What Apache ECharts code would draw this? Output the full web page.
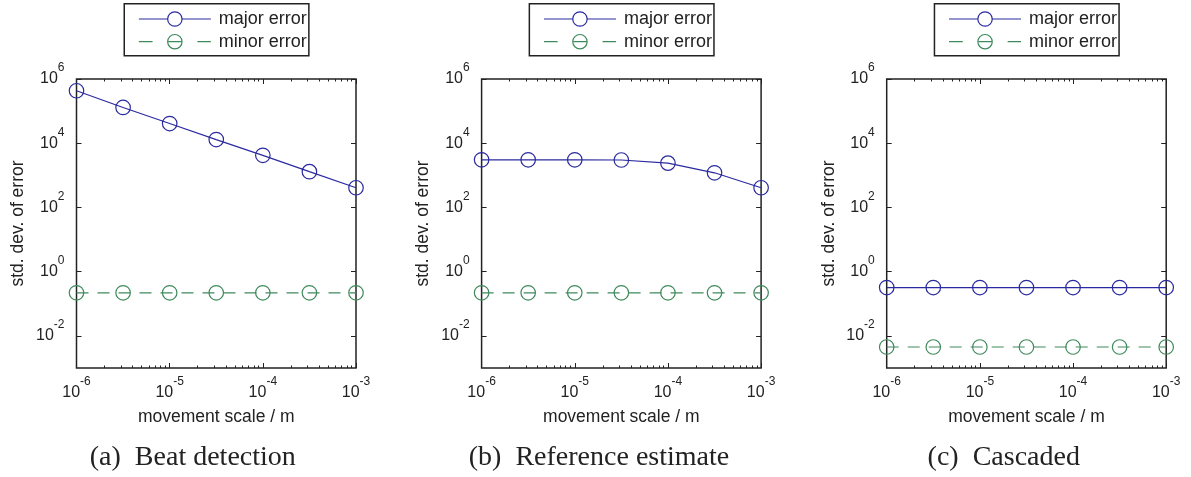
<!DOCTYPE html>
<html><head><meta charset="utf-8">
<script src="https://cdn.jsdelivr.net/npm/echarts@6/dist/echarts.min.js"></script>
<style>html,body{margin:0;padding:0;background:#fff}#c{width:1191px;height:477px}</style>
</head><body><div id="c"></div>
<script>
// ---- data ----
const xValues = [1e-6, 3.162e-6, 1e-5, 3.162e-5, 1e-4, 3.162e-4, 1e-3];
const seriesNames = ['major error', 'minor error'];
const panelCaptions = ['(a)  Beat detection', '(b)  Reference estimate', '(c)  Cascaded'];
const majorBeat = [4.3e5, 1.3e5, 4.1e4, 1.3e4, 4.2e3, 1.3e3, 410];
const minorBeat = [0.22, 0.22, 0.22, 0.22, 0.22, 0.22, 0.22];
const majorRef  = [3050, 3050, 3050, 3000, 2400, 1200, 410];
const minorRef  = [0.22, 0.22, 0.22, 0.22, 0.22, 0.22, 0.22];
const majorCasc = [0.32, 0.32, 0.32, 0.32, 0.32, 0.32, 0.32];
const minorCasc = [0.0045, 0.0045, 0.0045, 0.0045, 0.0045, 0.0045, 0.0045];
const xTickValues = [1e-6, 1e-5, 1e-4, 1e-3];
const yTickValues = [1e-2, 1, 1e2, 1e4, 1e6];
const xMinorTickValues = [2e-6,3e-6,4e-6,5e-6,6e-6,7e-6,8e-6,9e-6,
                          2e-5,3e-5,4e-5,5e-5,6e-5,7e-5,8e-5,9e-5,
                          2e-4,3e-4,4e-4,5e-4,6e-4,7e-4,8e-4,9e-4];
const panels = [[majorBeat, minorBeat], [majorRef, minorRef], [majorCasc, minorCasc]];

// ---- style ----
const BLUE = '#2a2aa0', GREEN = '#3f8a5c', INK = '#222';
const SANS = 'Liberation Sans, Arial, sans-serif';
const gridLefts = [76.5, 481.6, 886.7];
const GW = 279.5, GT = 79, GH = 289;

const grids = [], xAxes = [], yAxes = [], series = [], legends = [], titles = [];
const lg = v => Math.log10(v);

function decoAxis(gridIndex, pos, min, max, vals, len) {
  return {
    type: 'value', gridIndex, position: pos, min, max,
    axisLine: {show: false, onZero: false}, axisLabel: {show: false}, splitLine: {show: false},
    axisTick: {show: true, inside: true, length: len, customValues: vals,
               lineStyle: {color: INK, width: 1}}
  };
}

panels.forEach((vals, p) => {
  const left = gridLefts[p];
  const gm = grids.length;
  grids.push({left, top: GT, width: GW, height: GH, show: true,
              borderColor: INK, borderWidth: 1.5, backgroundColor: 'rgba(0,0,0,0)'});
  const gd = grids.length;
  grids.push({left, top: GT, width: GW, height: GH, show: false});

  const xMain = xAxes.length;
  xAxes.push({
    type: 'log', logBase: 10, gridIndex: gm, position: 'bottom',
    min: 1e-6, max: 1e-3,
    axisLine: {show: false, onZero: false}, splitLine: {show: false},
    axisTick: {show: true, inside: true, length: 5, lineStyle: {color: INK, width: 1}},
    axisLabel: {
      margin: 7.5,
      formatter: v => '{b|10}{s|' + Math.round(lg(v)) + '}',
      rich: {
        b: {fontSize: 16, fontFamily: SANS, color: INK, lineHeight: 34},
        s: {fontSize: 12, fontFamily: SANS, color: INK, lineHeight: 13, verticalAlign: 'top'}
      }
    },
    name: 'movement scale / m', nameLocation: 'middle', nameGap: 40,
    nameTextStyle: {fontSize: 17.5, fontFamily: SANS, color: INK}
  });
  xAxes.push(decoAxis(gm, 'top', -6, -3, xTickValues.map(lg), 5));
  xAxes.push(decoAxis(gd, 'bottom', -6, -3, xMinorTickValues.map(lg), 2.5));
  xAxes.push(decoAxis(gd, 'top', -6, -3, xMinorTickValues.map(lg), 2.5));

  const yMain = yAxes.length;
  yAxes.push({
    type: 'log', logBase: 10, gridIndex: gm, position: 'left',
    min: 1e-3, max: 1e6,
    axisLine: {show: false, onZero: false}, splitLine: {show: false}, axisTick: {show: false},
    axisLabel: {
      margin: 12,
      formatter: v => { const e = Math.round(lg(v)); return (e % 2 === 0) ? '{b|10}{s|' + e + '}' : ''; },
      rich: {
        b: {fontSize: 16, fontFamily: SANS, color: INK, lineHeight: 34},
        s: {fontSize: 12, fontFamily: SANS, color: INK, lineHeight: 13, verticalAlign: 'top'}
      }
    },
    name: 'std. dev. of error', nameLocation: 'middle', nameGap: 49,
    nameTextStyle: {fontSize: 17.5, fontFamily: SANS, color: INK}
  });
  yAxes.push(decoAxis(gm, 'right', -3, 6, yTickValues.map(lg), 5));
  yAxes.push(decoAxis(gd, 'left', -3, 6, yTickValues.map(lg), 5));

  const styles = [
    {color: BLUE, type: 'solid'},
    {color: GREEN, type: [12, 9]}
  ];
  vals.forEach((arr, k) => {
    series.push({
      name: seriesNames[k], type: 'line', xAxisIndex: xMain, yAxisIndex: yMain,
      data: xValues.map((x, i) => [x, arr[i]]),
      symbol: 'circle', symbolSize: 14.5, clip: false, z: 5,
      itemStyle: {color: 'rgba(255,255,255,0)', borderColor: styles[k].color, borderWidth: 1.2},
      lineStyle: {color: styles[k].color, width: 1.2, type: styles[k].type},
      emphasis: {disabled: true}, silent: true
    });
  });

  legends.push({
    left: left + GW / 2 - 92, top: 3.7, orient: 'vertical',
    selectedMode: false,
    padding: [6.3, 2, 5, 14], itemGap: 4.7,
    itemWidth: 72, itemHeight: 18,
    borderColor: INK, borderWidth: 1.5, backgroundColor: '#fff',
    textStyle: {fontSize: 18, fontFamily: SANS, color: INK, lineHeight: 18, padding: [0, 0, 0, 3]},
    data: [
      {name: 'major error',
       itemStyle: {color: '#fff', borderColor: BLUE, borderWidth: 1.2},
       lineStyle: {color: BLUE, width: 1.2, type: 'solid'}},
      {name: 'minor error',
       itemStyle: {color: 'rgba(255,255,255,0)', borderColor: GREEN, borderWidth: 1.2},
       lineStyle: {color: GREEN, width: 1.2, type: [13.7, 15.6]}}
    ]
  });

  const capCenters = [192.8, 599, 1003.8];
  titles.push({
    text: panelCaptions[p], left: capCenters[p], top: 443, textAlign: 'center', padding: 0,
    textStyle: {fontSize: 28, fontFamily: 'Liberation Serif, Times New Roman, serif',
                fontWeight: 'normal', color: INK, lineHeight: 30}
  });
});

const chart = echarts.init(document.getElementById('c'), null, {renderer: 'canvas'});
chart.setOption({
  animation: false,
  backgroundColor: '#fff',
  title: titles, grid: grids, xAxis: xAxes, yAxis: yAxes, legend: legends, series
});
</script></body></html>
